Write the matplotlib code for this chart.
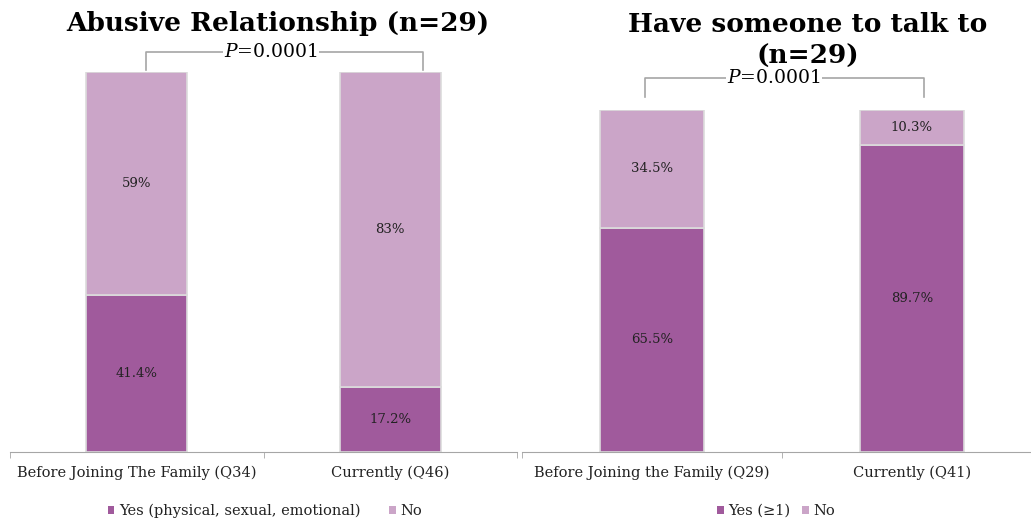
import matplotlib
matplotlib.use("Agg")
import matplotlib.pyplot as plt
from matplotlib.patches import Patch

# Data
left_title = "Abusive Relationship (n=29)"
left_cats = ["Before Joining The Family (Q34)", "Currently (Q46)"]
left_yes = [41.4, 17.2]
left_no = [58.6, 82.8]
left_yes_lbl = ["41.4%", "17.2%"]
left_no_lbl = ["59%", "83%"]
left_legend = ["Yes (physical, sexual, emotional)", "No"]

right_title = "Have someone to talk to\n(n=29)"
right_cats = ["Before Joining the Family (Q29)", "Currently (Q41)"]
right_yes = [65.5, 89.7]
right_no = [34.5, 10.3]
right_yes_lbl = ["65.5%", "89.7%"]
right_no_lbl = ["34.5%", "10.3%"]
right_legend = ["Yes (\u22651)", "No"]

p_text = r"$\mathit{P}$=0.0001"

DARK = "#A05A9C"
LIGHT = "#CBA5C8"
GRAY = "#A6A6A6"

plt.rcParams["font.family"] = "DejaVu Serif"
plt.rcParams["mathtext.fontset"] = "dejavuserif"

W, H = 1031, 523
fig = plt.figure(figsize=(W / 100, H / 100), dpi=100)


def px_axes(x0, x1, ytop, ybot):
    return fig.add_axes([x0 / W, (H - ybot) / H, (x1 - x0) / W, (ybot - ytop) / H])


def draw_panel(ax, cats, yes, no, yes_lbl, no_lbl, legend_labels, bar_w, leg_x, colsp):
    x = list(range(len(cats)))
    ax.bar(x, yes, width=bar_w, color=DARK, edgecolor="#dcdcdc", linewidth=1.2)
    ax.bar(x, no, bottom=yes, width=bar_w, color=LIGHT, edgecolor="#dcdcdc",
           linewidth=1.2)
    for i in x:
        ax.text(i, yes[i] / 2, yes_lbl[i], ha="center", va="center", fontsize=9.5,
                color="#222222")
        ax.text(i, yes[i] + no[i] / 2, no_lbl[i], ha="center", va="center",
                fontsize=9.5, color="#222222")
    ax.set_xlim(-0.5, 1.5)
    ax.set_ylim(0, 100)
    for s in ["top", "left", "right"]:
        ax.spines[s].set_visible(False)
    ax.spines["bottom"].set_color(GRAY)
    ax.set_yticks([])
    ax.set_xticks(x)
    ax.set_xticklabels(cats, fontsize=10.5, color="#222222")
    ax.tick_params(axis="x", length=0, pad=10)
    ax.set_xticks([-0.5, 0.5, 1.5], minor=True)
    ax.tick_params(axis="x", which="minor", length=4, color=GRAY, direction="out")
    handles = [Patch(facecolor=DARK, edgecolor="none"),
               Patch(facecolor=LIGHT, edgecolor="none")]
    leg = ax.legend(handles, legend_labels, loc="center",
                    bbox_to_anchor=(leg_x / W, 1 - 511 / H),
                    bbox_transform=fig.transFigure,
                    ncol=2, frameon=False, fontsize=10.5, handlelength=0.45,
                    handleheight=0.45, handletextpad=0.3, columnspacing=colsp)
    for t in leg.get_texts():
        t.set_color("#222222")


def bracket(ax, x0, x1, ytop, ybot, xt):
    ax.plot([x0, x0, x1, x1], [ybot, ytop, ytop, ybot], color=GRAY, lw=1.2,
            clip_on=False)
    ax.text(xt, ytop, p_text, ha="center", va="center", fontsize=13.5,
            bbox=dict(facecolor="white", edgecolor="none", pad=1), clip_on=False)


axL = px_axes(10, 517, 72, 452)
draw_panel(axL, left_cats, left_yes, left_no, left_yes_lbl, left_no_lbl,
           left_legend, 0.4, 265, 2.0)
bracket(axL, 0.035, 1.13, 105.3, 100.5, 0.53)

axR = px_axes(522, 1042, 110, 452)
draw_panel(axR, right_cats, right_yes, right_no, right_yes_lbl, right_no_lbl,
           right_legend, 0.4, 776, 0.8)
bracket(axR, -0.027, 1.046, 109.4, 103.8, 0.47)

fig.text(278 / W, 1 - 23 / H, left_title, ha="center", va="center", fontsize=19,
         fontweight="bold")
fig.text(808 / W, 1 - 40 / H, right_title, ha="center", va="center", fontsize=19,
         fontweight="bold", linespacing=1.35)

fig.savefig("out.png", dpi=100)
